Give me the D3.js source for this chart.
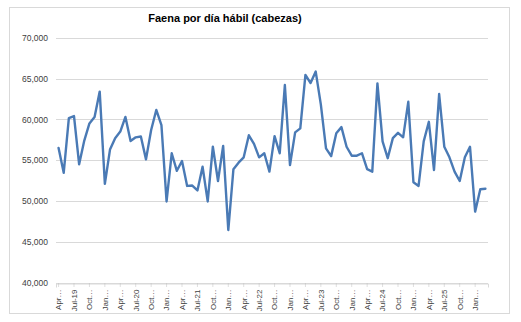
<!DOCTYPE html>
<html>
<head>
<meta charset="utf-8">
<script src="https://cdn.jsdelivr.net/npm/d3@7"></script>
<style>
  html, body { margin: 0; padding: 0; background: #fff; }
  svg { display: block; font-family: "Liberation Sans", Arial, sans-serif; }
</style>
</head>
<body>
<svg id="chart" width="521" height="322"></svg>
<script>
// Monthly series, Apr-2019 .. Mar-2026
const title = "Faena por día hábil (cabezas)";
const startYear = 2019, startMonth = 3; // April (0-based)
const monthNames = ["Jan", "Feb", "Mar", "Apr", "May", "Jun", "Jul", "Aug", "Sep", "Oct", "Nov", "Dec"];
const values = [
  56500, 53450, 60150, 60400, 54500, 57400, 59500, 60300, 63400,
  52100, 56300, 57700, 58500, 60300, 57350, 57800, 57900, 55100, 58700, 61150, 59300,
  49950, 55850, 53700, 54900, 51850, 51900, 51300, 54200, 49950, 56650, 52450, 56750,
  46450, 53900, 54700, 55350, 58050, 57000, 55350, 55850, 53600, 57950, 55850, 64200,
  54400, 58400, 58900, 65450, 64450, 65850, 61800, 56450, 55500, 58300, 59050, 56650,
  55550, 55550, 55850, 53900, 53600, 64400, 57300, 55250, 57700, 58350, 57800, 62150,
  52300, 51850, 57300, 59700, 53800, 63100, 56650, 55350, 53600, 52450, 55350, 56650,
  48700, 51450, 51500
];
const yTicks = [40000, 45000, 50000, 55000, 60000, 65000, 70000];

const months = values.map((v, i) => {
  const m = (startMonth + i) % 12;
  const y = startYear + Math.floor((startMonth + i) / 12);
  return { key: i, month: m, year: y, value: v };
});

// Quarterly category labels as shown on the axis
function catLabel(d) {
  if (d.month === 6) return monthNames[d.month] + "-" + String(d.year).slice(2);
  return monthNames[d.month] + "\u2026";
}

const svg = d3.select("#chart");

// Chart frame
svg.append("rect")
  .attr("x", 9.5).attr("y", 7.5).attr("width", 500).attr("height", 306)
  .attr("fill", "#fff").attr("stroke", "#d9d9d9").attr("stroke-width", 1);

const plot = { left: 56, right: 488, top: 37.7, bottom: 282.7 };

const x = d3.scaleBand()
  .domain(months.map(d => d.key))
  .range([plot.left, plot.right])
  .paddingInner(0).paddingOuter(0);
const cx = i => x(i) + x.bandwidth() / 2;

const y = d3.scaleLinear().domain([40000, 70000]).range([plot.bottom, plot.top]);

// Horizontal gridlines
svg.append("g")
  .selectAll("line")
  .data(yTicks)
  .join("line")
  .attr("x1", plot.left).attr("x2", plot.right)
  .attr("y1", d => Math.round(y(d)) + 0.5).attr("y2", d => Math.round(y(d)) + 0.5)
  .attr("stroke", "#d9d9d9").attr("stroke-width", 1);

// Y axis labels
const yAxis = d3.axisLeft(y).tickValues(yTicks).tickSize(0).tickPadding(0)
  .tickFormat(d3.format(",.0f"));
const gy = svg.append("g").attr("transform", `translate(${48},0)`).call(yAxis);
gy.select(".domain").remove();
gy.selectAll("text")
  .attr("fill", "#404040")
  .style("font-size", "8.5px")
  .style("font-family", "'Liberation Sans', Arial, sans-serif");

// X axis: quarterly labels, rotated
const quarterKeys = months.filter(d => d.month % 3 === 0).map(d => d.key);
const xAxis = d3.axisBottom(x).tickValues(quarterKeys).tickSize(4).tickPadding(3)
  .tickFormat(k => catLabel(months[k]));
const gx = svg.append("g").attr("transform", `translate(0,${Math.round(plot.bottom) + 0.5})`).call(xAxis);
gx.select(".domain").attr("stroke", "#d9d9d9");
gx.selectAll(".tick line").attr("stroke", "#bfbfbf").attr("stroke-dasharray", "1,1");
gx.selectAll("text")
  .attr("fill", "#404040")
  .style("font-size", "8px")
  .style("font-family", "'Liberation Sans', Arial, sans-serif")
  .attr("transform", "rotate(-90)")
  .attr("text-anchor", "end")
  .attr("dy", "0.35em")
  .attr("x", -6)
  .attr("y", 0);

// Series line
const line = d3.line()
  .x(d => cx(d.key))
  .y(d => y(d.value))
  .curve(d3.curveLinear);

svg.append("path")
  .datum(months)
  .attr("d", line)
  .attr("fill", "none")
  .attr("stroke", "#4a7ab5")
  .attr("stroke-width", 2.4)
  .attr("stroke-linejoin", "round")
  .attr("stroke-linecap", "round");

// Title
svg.append("text")
  .attr("x", 225).attr("y", 22)
  .attr("text-anchor", "middle")
  .style("font-size", "11px")
  .style("font-weight", "bold")
  .attr("fill", "#000")
  .text(title);
</script>
</body>
</html>
